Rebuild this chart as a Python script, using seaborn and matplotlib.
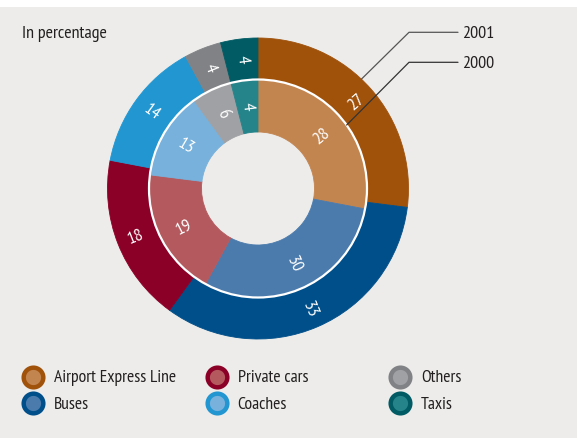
import numpy as np
import matplotlib
matplotlib.use('Agg')
import matplotlib.pyplot as plt
import seaborn as sns
from matplotlib.patches import Circle

# Données
categories = ['Airport Express Line', 'Buses', 'Private cars', 'Coaches', 'Others', 'Taxis']
values_2001 = [27, 33, 18, 14, 4, 4]
values_2000 = [28, 30, 19, 13, 6, 4]
colors_2001 = ['#A0520B', '#004F8A', '#8B0026', '#2196D1', '#808285', '#005B64']
colors_2000 = ['#C38550', '#4B7BAC', '#B45A5E', '#77B1DC', '#A0A1A4', '#25848A']

bg = '#EDECEA'
sns.set_theme(style='white')
plt.rcParams['font.family'] = ['PT Sans Narrow', 'DejaVu Sans']

fig = plt.figure(figsize=(5.79, 4.39), dpi=100)
fig.patch.set_facecolor('white')
# fond gris (bande blanche en haut et à droite)
fig.add_artist(plt.Rectangle((0, 0), 577 / 579, 431 / 439, transform=fig.transFigure,
                             facecolor=bg, edgecolor='none', zorder=0))
ax = fig.add_axes([0, 0, 1, 1])
ax.set_facecolor('none')

# coordonnées en pixels (y vers le haut)
H = 439
cx, cy = 258, H - 189.5
r_out, r_mid, r_in = 150.5, 109, 56.5

w_out, _ = ax.pie(values_2001, radius=r_out, center=(cx, cy), startangle=90, counterclock=False,
                  colors=colors_2001, wedgeprops=dict(width=r_out - r_mid, linewidth=0.6))
w_in, _ = ax.pie(values_2000, radius=r_mid, center=(cx, cy), startangle=90, counterclock=False,
                 colors=colors_2000, wedgeprops=dict(width=r_mid - r_in, linewidth=0.6))
for w in list(w_out) + list(w_in):
    w.set_edgecolor(w.get_facecolor())

# cercle blanc entre les deux anneaux
ax.add_patch(Circle((cx, cy), r_mid, fill=False, ec='white', lw=1.6, zorder=5))


# étiquettes radiales
def add_labels(values, radius):
    cum = np.cumsum(values) - np.array(values) / 2
    for v, c in zip(values, cum):
        ang = 90 - 360 * c / sum(values)
        x = cx + radius * np.cos(np.radians(ang))
        y = cy + radius * np.sin(np.radians(ang))
        rot = ang
        if rot < -90:
            rot += 180
        elif rot > 90:
            rot -= 180
        ax.text(x, y, str(v), color='white', fontsize=13, ha='center', va='center',
                rotation=rot, rotation_mode='anchor', zorder=6)


add_labels(values_2001, (r_out + r_mid) / 2 + 1)
add_labels(values_2000, (r_mid + r_in) / 2 + 0.5)

# traits de rappel 2001 / 2000
for year, radius, ang, ty, col in [('2001', r_out, 46.6, 33.3, '#555555'),
                                   ('2000', r_mid, 35.6, 63.3, '#333333')]:
    px = cx + radius * np.cos(np.radians(ang))
    py = cy + radius * np.sin(np.radians(ang))
    ax.plot([px, 409, 458], [py, H - ty, H - ty], color=col, lw=0.9, zorder=7)
    ax.text(462, H - ty - 1, year, fontsize=13, color='#231F20', ha='left', va='center')

ax.text(22, H - 34, 'In percentage', fontsize=13, color='#231F20', ha='left', va='center')

# légende
for i, (lab, c_dark, c_light) in enumerate(zip(categories, colors_2001, colors_2000)):
    col, row = i // 2, i % 2
    lx = 33 + 183.5 * col
    ly = H - (377.5 + 26.3 * row)
    ax.scatter([lx], [ly], s=200, facecolor=c_light, edgecolor=c_dark, linewidth=3.2, zorder=8)
    ax.text(lx + 21, ly - 1, lab, fontsize=12.7, color='#231F20', ha='left', va='center')

ax.set_xlim(0, 579)
ax.set_ylim(0, H)
ax.set_aspect('equal')
ax.axis('off')

plt.savefig('out.png', dpi=100, facecolor=fig.get_facecolor())
